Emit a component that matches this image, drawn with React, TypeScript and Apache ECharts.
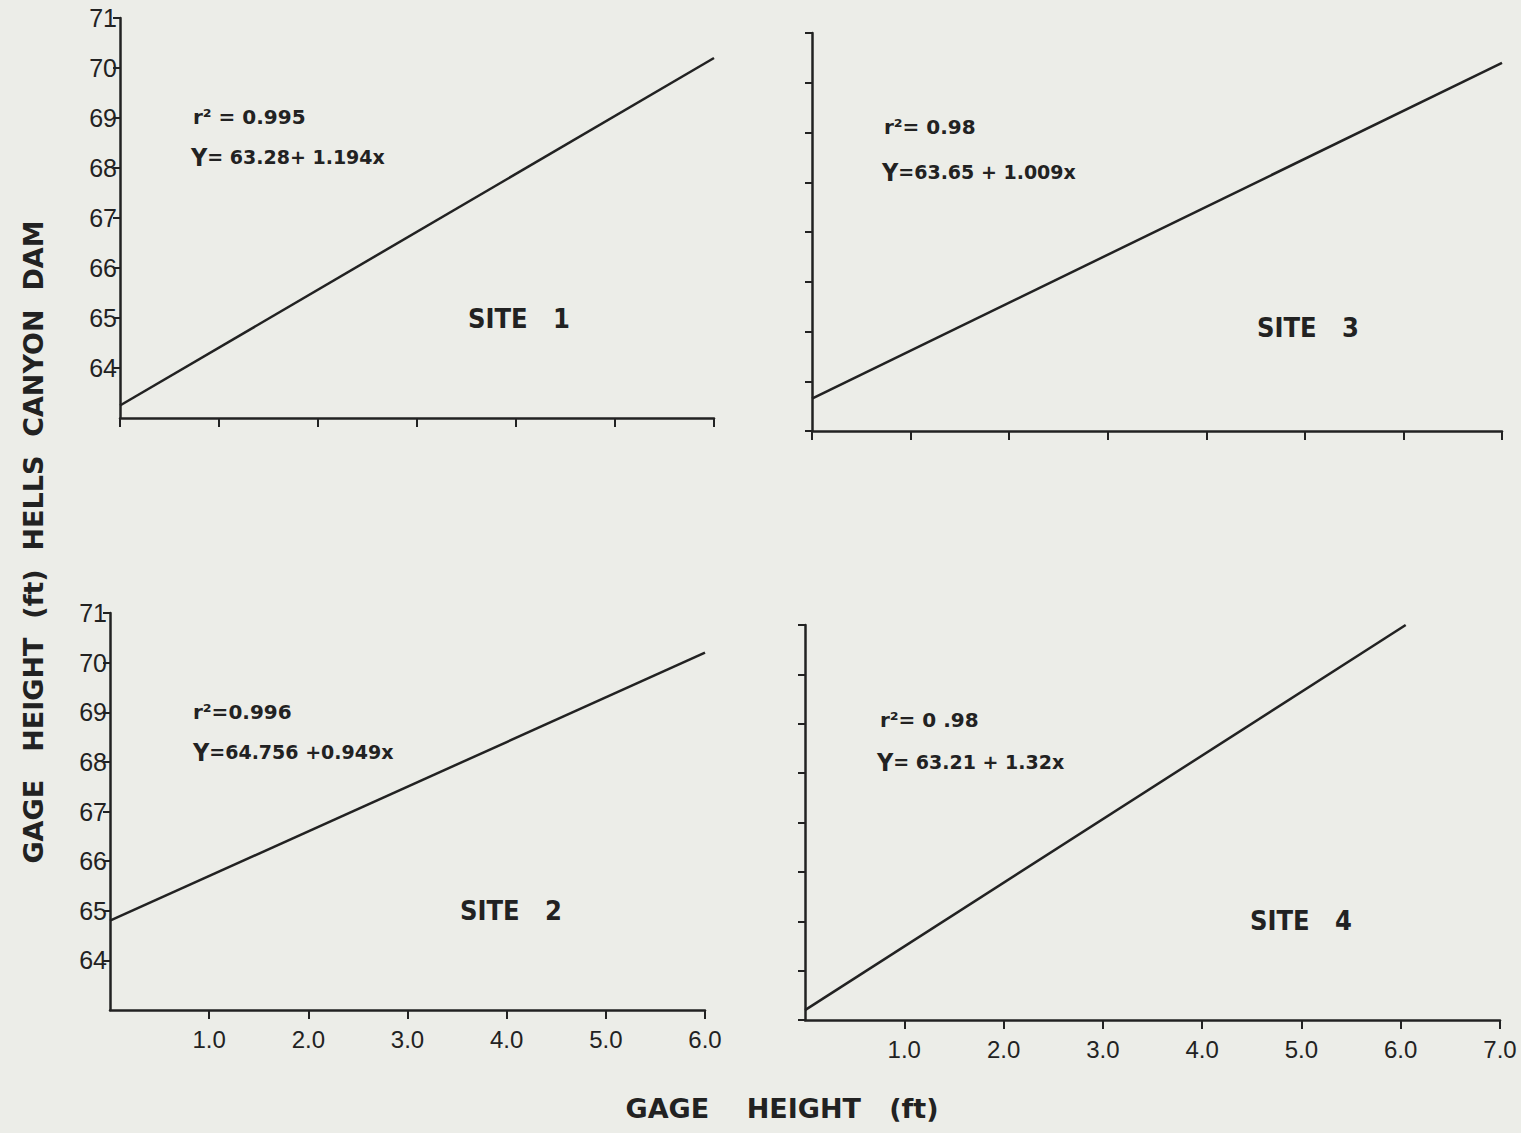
import React, { useEffect, useRef } from "react";
import * as echarts from "echarts";

// Values
const site1Line = [[0, 63.25], [6, 70.2]];
const site2Line = [[0, 64.8], [6, 70.2]];
const site3Line = [[0, 63.65], [7, 70.4]];
const site4Line = [[0, 63.2], [6.05, 71.0]];

const yRange = [63, 71];
const xMaxTop = [6, 7];
const xMaxBottom = [6, 7];

const siteNames = ["SITE   1", "SITE   3", "SITE   2", "SITE   4"];
const r2Texts = ["r² = 0.995", "r²= 0.98", "r²=0.996", "r²= 0 .98"];
const eqTexts = [
  ["Y", "= 63.28+ 1.194x"],
  ["Y", "=63.65 + 1.009x"],
  ["Y", "=64.756 +0.949x"],
  ["Y", "= 63.21 + 1.32x"],
];
const xTitle = "GAGE    HEIGHT   (ft)";
const yTitle = "GAGE   HEIGHT  (ft)  HELLS  CANYON  DAM";

const INK = "#222";
const FONT = "'Liberation Sans', Arial, sans-serif";
const WIDE = "'DejaVu Sans', 'Liberation Sans', sans-serif";
const NARROW = "'Liberation Sans Narrow', 'DejaVu Sans Condensed', 'Liberation Sans', sans-serif";

export default function App() {
  const ref = useRef<HTMLDivElement>(null);
  useEffect(() => {
    if (!ref.current) return;
    const chart = echarts.init(ref.current, null, { renderer: "svg" });

    const grids = [
      { left: 120, top: 18, width: 594, height: 400 },
      { left: 812, top: 33, width: 690, height: 398 },
      { left: 110, top: 613, width: 595, height: 397 },
      { left: 805, top: 625, width: 695, height: 395 },
    ];
    const xMax = [xMaxTop[0], xMaxTop[1], xMaxBottom[0], xMaxBottom[1]];
    const showYLabels = [true, false, true, false];
    const showXLabels = [false, false, true, true];
    const lines = [site1Line, site3Line, site2Line, site4Line];

    const axisLine = { show: true, lineStyle: { color: INK, width: 2.5 } };

    const xAxis = grids.map((_, i) => ({
      type: "value",
      gridIndex: i,
      min: 0,
      max: xMax[i],
      interval: 1,
      axisLine,
      axisTick: { show: true, length: 9, lineStyle: { color: INK, width: 2 } },
      splitLine: { show: false },
      axisLabel: {
        show: showXLabels[i],
        showMinLabel: false,
        formatter: (v: number) => v.toFixed(1),
        color: INK,
        fontSize: 24,
        fontFamily: FONT,
        margin: 17,
      },
    }));

    const yAxis = grids.map((_, i) => ({
      type: "value",
      gridIndex: i,
      min: yRange[0],
      max: yRange[1],
      interval: 1,
      axisLine,
      axisTick: { show: true, length: 7, lineStyle: { color: INK, width: 2 } },
      splitLine: { show: false },
      axisLabel: {
        show: showYLabels[i],
        showMinLabel: false,
        color: INK,
        fontSize: 25,
        fontFamily: FONT,
        margin: 3,
      },
    }));

    const series = lines.map((d, i) => ({
      type: "line",
      xAxisIndex: i,
      yAxisIndex: i,
      data: d,
      symbol: "none",
      lineStyle: { color: INK, width: 2.5 },
    }));

    const annPos = [
      { r: [193, 117], e: [191, 157], s: [468, 318] },
      { r: [884, 127], e: [882, 172], s: [1257, 327] },
      { r: [193, 712], e: [193, 752], s: [460, 910] },
      { r: [880, 720], e: [877, 762], s: [1250, 920] },
    ];

    const graphic: any[] = [];
    annPos.forEach((p, i) => {
      graphic.push({
        type: "text",
        x: p.r[0],
        y: p.r[1],
        style: {
          text: r2Texts[i],
          fill: INK,
          font: `bold 20px ${WIDE}`,
          verticalAlign: "middle",
        },
      });
      graphic.push({
        type: "text",
        x: p.e[0],
        y: p.e[1],
        style: {
          text: `{b|${eqTexts[i][0]}}{n|${eqTexts[i][1]}}`,
          fill: INK,
          verticalAlign: "middle",
          rich: {
            b: { font: `bold 25px ${NARROW}`, fill: INK },
            n: { font: `bold 19px ${WIDE}`, fill: INK },
          },
        },
      });
      graphic.push({
        type: "text",
        x: p.s[0],
        y: p.s[1],
        style: {
          text: siteNames[i],
          fill: INK,
          font: `bold 27px ${NARROW}`,
          verticalAlign: "middle",
        },
      });
    });

    graphic.push({
      type: "text",
      x: 782,
      y: 1108,
      style: {
        text: xTitle,
        fill: INK,
        font: `bold 27px ${WIDE}`,
        align: "center",
        verticalAlign: "middle",
      },
    });
    graphic.push({
      type: "text",
      x: 33,
      y: 542,
      rotation: Math.PI / 2,
      style: {
        text: yTitle,
        fill: INK,
        font: `bold 27px ${WIDE}`,
        align: "center",
        verticalAlign: "middle",
      },
    });

    chart.setOption({
      animation: false,
      backgroundColor: "#ecede8",
      grid: grids,
      xAxis,
      yAxis,
      series,
      graphic,
    });

    return () => chart.dispose();
  }, []);

  return (
    <div
      ref={ref}
      style={{ position: "absolute", left: 0, top: 0, width: 1521, height: 1133 }}
    />
  );
}
